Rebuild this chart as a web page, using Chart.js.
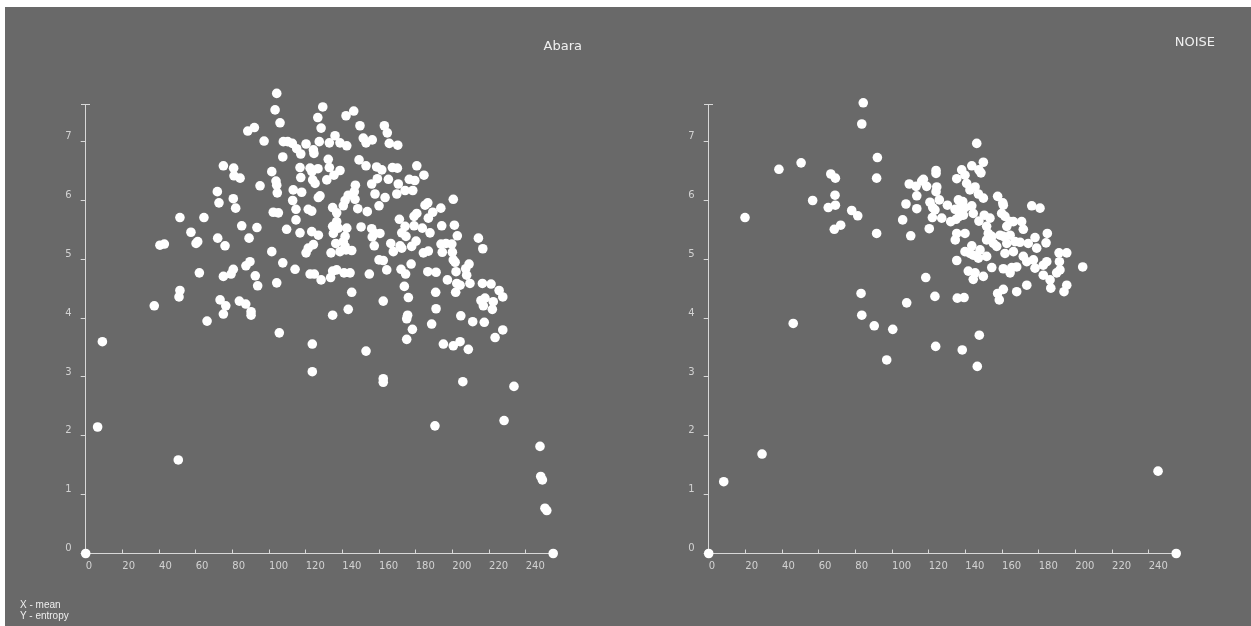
<!DOCTYPE html>
<html>
<head>
<meta charset="utf-8">
<script src="https://cdn.jsdelivr.net/npm/chart.js@4.4.1/dist/chart.umd.min.js"></script>
<style>
  html, body { margin: 0; padding: 0; width: 1251px; height: 626px; overflow: hidden; background: #fff; }
  #panel { position: absolute; left: 5px; top: 7px; right: 0; bottom: 0; background: #696969; }
  canvas { position: absolute; top: 7px; }
  .title { position: absolute; color: #f0f0f0; font: 13px "DejaVu Sans", sans-serif; line-height: 16px; white-space: nowrap; }
  .note { position: absolute; left: 20px; top: 599px; color: #eeeeee; font: 10px "Liberation Sans Narrow", "Liberation Sans", sans-serif; line-height: 11px; }
</style>
</head>
<body>
<div id="panel"></div>
<canvas id="abara-chart" width="600" height="600" style="left:5px"></canvas>
<canvas id="noise-chart" width="600" height="600" style="left:628px"></canvas>
<div class="title" style="right:669px; top:38px">Abara</div>
<div class="title" style="right:36px; top:34px">NOISE</div>
<div class="note">X - mean<br>Y - entropy</div>
<script>
// [mean, entropy]
const abara = [
  [104.2,7.82],[103.3,7.54],[106.0,7.32],[129.3,7.59],[126.6,7.41],[128.4,7.23],[142.0,7.44],[146.2,7.52],
  [149.6,7.27],[88.4,7.18],[92.0,7.24],[97.3,7.01],[107.8,7.00],[110.2,7.00],[112.7,6.97],[115.1,6.88],
  [117.3,6.79],[120.2,6.96],[124.2,6.86],[124.5,6.80],[127.4,7.00],[132.9,6.98],[136.0,7.10],[138.7,6.98],
  [142.4,6.93],[151.4,7.06],[152.9,6.98],[156.3,7.03],[107.5,6.74],[75.1,6.59],[80.7,6.55],[80.9,6.42],
  [84.2,6.38],[101.5,6.49],[103.8,6.33],[104.2,6.26],[95.1,6.25],[116.9,6.56],[122.4,6.55],[123.4,6.49],
  [126.7,6.54],[117.3,6.39],[123.8,6.35],[125.1,6.29],[132.3,6.70],[132.9,6.56],[138.7,6.51],[135.4,6.43],
  [131.5,6.35],[149.1,6.69],[152.9,6.59],[158.7,6.57],[159.1,6.37],[156.0,6.28],[113.2,6.18],[117.8,6.14],
  [104.5,6.13],[127.8,6.08],[126.9,6.05],[112.9,6.00],[143.2,6.09],[147.1,6.26],[146.5,6.15],[141.5,6.00],
  [140.5,5.91],[146.9,6.02],[157.8,6.11],[71.8,6.15],[72.7,5.96],[80.5,6.03],[81.8,5.87],[102.3,5.80],
  [105.1,5.79],[114.7,5.85],[114.7,5.67],[121.4,5.85],[123.3,5.82],[134.7,5.88],[136.9,5.79],[148.4,5.86],
  [153.6,5.81],[160.0,5.91],[51.4,5.71],[64.5,5.71],[85.1,5.57],[93.4,5.54],[109.6,5.51],[116.9,5.45],
  [123.3,5.47],[126.9,5.41],[134.7,5.56],[136.9,5.64],[135.1,5.44],[137.8,5.53],[142.4,5.53],[141.5,5.39],
  [150.2,5.55],[156.0,5.52],[157.8,5.44],[57.4,5.46],[60.2,5.27],[61.1,5.30],[72.0,5.36],[76.0,5.23],
  [89.1,5.36],[40.5,5.24],[42.9,5.26],[101.5,5.13],[107.5,4.94],[114.2,4.83],[120.2,5.11],[121.4,5.19],
  [124.2,5.25],[133.8,5.11],[136.4,5.27],[140.5,5.30],[138.7,5.13],[142.0,5.16],[145.1,5.15],[157.4,5.23],
  [160.5,5.44],[87.4,4.89],[89.6,4.96],[80.5,4.83],[79.3,4.75],[75.1,4.71],[92.5,4.72],[93.8,4.55],
  [104.2,4.60],[62.0,4.77],[122.4,4.75],[124.7,4.75],[128.4,4.65],[133.6,4.69],[134.7,4.80],[136.9,4.82],
  [140.9,4.77],[144.2,4.77],[154.7,4.75],[160.0,4.99],[145.1,4.44],[143.2,4.15],[134.7,4.05],[51.4,4.47],
  [50.9,4.36],[37.4,4.21],[73.3,4.31],[76.4,4.21],[75.1,4.07],[83.8,4.29],[87.3,4.24],[90.2,4.11],
  [90.2,4.05],[66.2,3.95],[105.6,3.75],[9.1,3.60],[123.6,3.56],[152.9,3.44],[123.6,3.09],[6.5,2.15],
  [50.5,1.59],[0,0],[162.3,2.97],[162.3,2.91],[175.1,3.64],[195.1,3.56],[200.5,3.53],[204.2,3.60],
  [208.7,3.47],[205.7,2.92],[233.6,2.84],[228.2,2.26],[190.5,2.17],[247.8,1.82],[248.2,1.31],[249.1,1.25],
  [250.5,0.77],[251.5,0.73],[255,0],
  [162.9,7.27],[164.5,7.15],[165.6,6.97],[170.2,6.94],[161.5,6.52],[167.3,6.56],[170.0,6.55],[180.6,6.59],
  [184.5,6.43],[165.1,6.36],[170.5,6.28],[176.5,6.36],[179.5,6.34],[163.3,6.05],[169.7,6.11],[174.2,6.17],
  [178.4,6.17],[200.5,6.02],[186.6,5.96],[185.1,5.92],[193.7,5.87],[189.3,5.80],[180.6,5.78],[179.1,5.73],
  [186.9,5.70],[171.1,5.68],[174.2,5.56],[172.4,5.45],[174.7,5.39],[179.1,5.57],[183.6,5.53],[187.8,5.45],
  [194.2,5.57],[201.1,5.58],[202.7,5.40],[214.2,5.36],[216.6,5.18],[141.5,5.22],[156.3,5.38],[166.4,5.27],
  [171.5,5.23],[172.4,5.19],[167.8,5.13],[180.2,5.31],[177.8,5.22],[184.2,5.11],[186.9,5.14],[193.8,5.26],
  [196.5,5.27],[199.7,5.26],[194.5,5.12],[200.0,5.12],[200.5,4.99],[201.5,4.95],[162.3,4.98],[177.5,4.92],
  [164.2,4.82],[172.0,4.83],[174.5,4.75],[186.6,4.79],[191.1,4.78],[202.0,4.79],[209.1,4.92],[207.3,4.84],
  [207.8,4.73],[197.3,4.65],[202.4,4.59],[204.2,4.56],[209.6,4.59],[216.4,4.59],[221.1,4.58],[225.5,4.47],
  [227.5,4.36],[215.6,4.30],[217.8,4.34],[216.9,4.21],[222.3,4.28],[221.8,4.15],[162.3,4.29],[173.8,4.54],
  [176.0,4.35],[190.9,4.44],[201.8,4.44],[175.6,4.05],[175.1,3.99],[191.1,4.16],[204.6,4.04],[211.1,3.94],
  [217.4,3.93],[178.2,3.81],[188.7,3.90],[227.5,3.80],[223.3,3.67]
];

const noise = [
  [84.3,7.66],[83.5,7.30],[92.0,6.73],[91.6,6.38],[91.6,5.44],[38.3,6.53],[50.4,6.64],[19.8,5.71],
  [56.7,6.00],[66.6,6.45],[69.1,6.38],[68.9,6.09],[65.2,5.88],[69.1,5.92],[78.0,5.83],[81.3,5.74],
  [68.5,5.51],[72.0,5.58],[83.1,4.42],[83.5,4.05],[46.1,3.91],[90.3,3.87],[100.4,3.81],[108.0,4.26],
  [118.4,4.69],[123.4,4.37],[135.6,4.34],[139.3,4.35],[135.3,4.98],[141.6,4.80],[145.3,4.77],[144.3,4.66],
  [105.8,5.67],[110.2,5.40],[107.6,5.94],[113.5,6.08],[113.5,5.86],[109.4,6.28],[113.1,6.24],[116.2,6.33],
  [118.9,6.24],[117.1,6.36],[124.0,6.51],[124.0,6.46],[124.4,6.23],[124.0,6.15],[120.7,5.97],[122.2,5.88],
  [123.4,5.84],[125.8,6.01],[122.0,5.71],[127.1,5.70],[120.3,5.52],[130.2,5.92],[132.0,5.64],[134.9,5.68],
  [136.7,5.73],[134.4,5.85],[137.1,5.88],[136.2,6.01],[138.6,5.98],[139.8,5.88],[138.9,5.75],[135.3,5.44],
  [134.5,5.33],[139.8,5.44],[143.5,5.91],[144.3,5.78],[135.3,6.37],[138.0,6.52],[139.8,6.43],[140.7,6.29],
  [143.5,6.59],[142.5,6.18],[145.3,6.23],[147.1,6.11],[146.2,6.97],[147.4,6.52],[139.8,5.13],[142.5,5.10],
  [143.5,5.23],[148.0,5.16],[147.1,5.02],[147.4,5.65],[147.6,3.71],[149.8,6.65],[148.5,6.47],[149.8,6.04],
  [157.6,6.07],[160.4,5.96],[160.7,5.92],[176.2,5.91],[180.7,5.87],[150.3,5.75],[153.4,5.70],[159.8,5.78],
  [161.6,5.73],[164.4,5.64],[162.6,5.56],[166.2,5.64],[170.7,5.64],[171.6,5.51],[151.6,5.56],[152.5,5.44],
  [154.4,5.39],[151.6,5.33],[155.3,5.27],[157.1,5.22],[158.9,5.41],[160.7,5.39],[164.4,5.41],[162.6,5.27],
  [167.1,5.30],[169.8,5.29],[174.3,5.27],[178.0,5.37],[178.9,5.19],[184.7,5.44],[184.0,5.28],[144.3,5.07],
  [151.6,5.05],[161.6,5.10],[166.2,5.13],[171.6,5.05],[173.5,4.96],[177.1,4.99],[178.0,4.85],[182.5,4.90],
  [184.4,4.96],[191.1,5.11],[195.3,5.11],[191.3,4.96],[191.6,4.82],[189.8,4.77],[204.0,4.87],[149.8,4.71],
  [154.4,4.86],[160.7,4.84],[165.3,4.86],[168.0,4.87],[164.4,4.77],[182.5,4.73],[186.2,4.65],[186.6,4.51],
  [195.3,4.56],[193.8,4.45],[173.5,4.56],[168.0,4.45],[160.7,4.49],[157.6,4.42],[158.5,4.31],[97.1,3.29],
  [123.8,3.52],[138.3,3.46],[146.5,3.18],[29.1,1.69],[8.2,1.22],[0,0],[245.1,1.40],[255,0]
];

const meanTicks = [0, 20, 40, 60, 80, 100, 120, 140, 160, 180, 200, 220, 240];
const entropyTicks = [0, 1, 2, 3, 4, 5, 6, 7];
const entropyAxisTop = 7.64; // where the drawn y axis line stops

const Config = {
  colors: {
    axis: "#d8d8d8",
    text: "#d2d2d2",
    dot: "#ffffff",
  },
  dotRadius: 4.8,
  font: { family: '"DejaVu Sans", sans-serif', size: 10 },
};

// y axis line stops below the top of the plot, with a small cap
const entropyAxis = {
  id: "entropyAxis",
  beforeDatasetsDraw(chart) {
    const { ctx, scales } = chart;
    const px = Math.round(scales.x.getPixelForValue(0) - 0.5) + 0.5;
    const y0 = scales.y.getPixelForValue(0);
    const y1 = Math.round(scales.y.getPixelForValue(entropyAxisTop)) + 0.5;
    ctx.save();
    ctx.strokeStyle = Config.colors.axis;
    ctx.lineWidth = 1;
    ctx.beginPath();
    ctx.moveTo(px, y0);
    ctx.lineTo(px, y1);
    ctx.moveTo(px - 4.5, y1);
    ctx.lineTo(px + 4.5, y1);
    ctx.stroke();
    ctx.restore();
  },
};

const loadChart = (id, pairs) => {
  const el = document.getElementById(id);
  if (!el) return;
  new Chart(el, {
    type: "scatter",
    data: {
      datasets: [
        {
          data: pairs.map(([x, y]) => ({ x, y })),
          backgroundColor: Config.colors.dot,
          borderWidth: 0,
          pointRadius: Config.dotRadius,
          pointHoverRadius: Config.dotRadius,
          clip: false,
        },
      ],
    },
    options: {
      responsive: false,
      animation: false,
      events: [],
      layout: { padding: { left: 40.7, right: 51.8, top: 81.7, bottom: 23.5 } },
      plugins: { legend: { display: false }, tooltip: { enabled: false } },
      scales: {
        x: {
          type: "linear",
          min: 0,
          max: 255,
          afterFit: (s) => { s.height = 30; },
          afterBuildTicks: (s) => { s.ticks = meanTicks.map((value) => ({ value })); },
          grid: { drawOnChartArea: false, tickLength: -4, color: Config.colors.axis },
          border: { color: Config.colors.axis, width: 1 },
          ticks: {
            align: "start",
            padding: 11,
            maxRotation: 0,
            autoSkip: false,
            color: Config.colors.text,
            font: Config.font,
          },
        },
        y: {
          type: "linear",
          min: 0,
          max: 7.9,
          afterFit: (s) => { s.width = 40; },
          afterBuildTicks: (s) => { s.ticks = entropyTicks.map((value) => ({ value })); },
          grid: { drawOnChartArea: false, tickLength: 5, color: Config.colors.axis },
          border: { display: false },
          ticks: {
            align: "end",
            padding: 9,
            autoSkip: false,
            color: Config.colors.text,
            font: Config.font,
          },
        },
      },
    },
    plugins: [entropyAxis],
  });
};

loadChart("abara-chart", abara);
loadChart("noise-chart", noise);
</script>
</body>
</html>
